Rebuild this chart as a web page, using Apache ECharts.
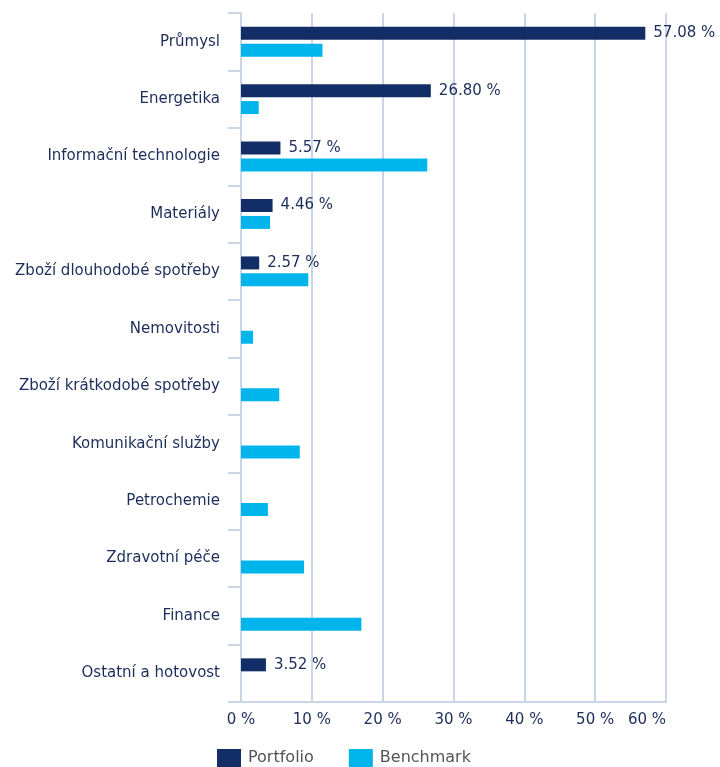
<!DOCTYPE html>
<html>
<head>
<meta charset="utf-8">
<script src="https://cdn.jsdelivr.net/npm/echarts@6/dist/echarts.min.js"></script>
<style>
  html, body { margin: 0; padding: 0; background: #fff; }
  #chart { width: 720px; height: 767px; }
</style>
</head>
<body>
<div id="chart"></div>
<script>
var categories = [
  'Průmysl', 'Energetika', 'Informační technologie', 'Materiály',
  'Zboží dlouhodobé spotřeby', 'Nemovitosti', 'Zboží krátkodobé spotřeby',
  'Komunikační služby', 'Petrochemie', 'Zdravotní péče', 'Finance',
  'Ostatní a hotovost'
];
var portfolio = [57.08, 26.80, 5.57, 4.46, 2.57, 0, 0, 0, 0, 0, 0, 3.52];
var benchmark = [11.5, 2.5, 26.3, 4.1, 9.5, 1.7, 5.4, 8.3, 3.8, 8.9, 17.0, 0];
var xTicks = [0, 10, 20, 30, 40, 50, 60];

var navy = '#132e66';
var textNavy = '#1c2d5a';
var cyan = '#00b5ec';
var lineCol = '#c9d6e8';
var font = 'DejaVu Sans';

var myChart = echarts.init(document.getElementById('chart'));

var option = {
  animation: false,
  textStyle: { fontFamily: font },
  grid: { left: 241, right: 54, top: 13, bottom: 65, containLabel: false },
  legend: {
    left: 217, top: 749, padding: 0,
    itemWidth: 24, itemHeight: 18, itemGap: 35,
    icon: 'rect',
    textStyle: { color: '#555', fontSize: 16, fontFamily: font, padding: [0, 0, 0, 2] },
    data: ['Portfolio', 'Benchmark']
  },
  xAxis: {
    type: 'value',
    min: xTicks[0], max: xTicks[xTicks.length - 1], interval: 10,
    axisLine: { show: true, lineStyle: { color: lineCol, width: 2 } },
    axisTick: { show: false },
    splitLine: { lineStyle: { color: lineCol, width: 2 } },
    axisLabel: {
      color: textNavy, fontSize: 15, margin: 11, fontFamily: font,
      alignMaxLabel: 'right',
      formatter: function (v) { return v + ' %'; }
    }
  },
  yAxis: {
    type: 'category',
    inverse: true,
    data: categories,
    axisLine: { lineStyle: { color: lineCol, width: 2 } },
    axisTick: { show: true, length: 13, lineStyle: { color: lineCol, width: 2 } },
    axisLabel: { color: textNavy, fontSize: 15, margin: 21, fontFamily: font }
  },
  series: [
    {
      name: 'Portfolio', type: 'bar', data: portfolio,
      barWidth: 13, barGap: '30%',
      itemStyle: { color: navy },
      label: {
        show: true, position: 'right', distance: 8,
        color: textNavy, fontSize: 15, fontFamily: font,
        formatter: function (p) { return p.value ? p.value.toFixed(2) + ' %' : ''; }
      }
    },
    {
      name: 'Benchmark', type: 'bar', data: benchmark,
      barWidth: 13,
      itemStyle: { color: cyan }
    }
  ]
};

myChart.setOption(option);
</script>
</body>
</html>
